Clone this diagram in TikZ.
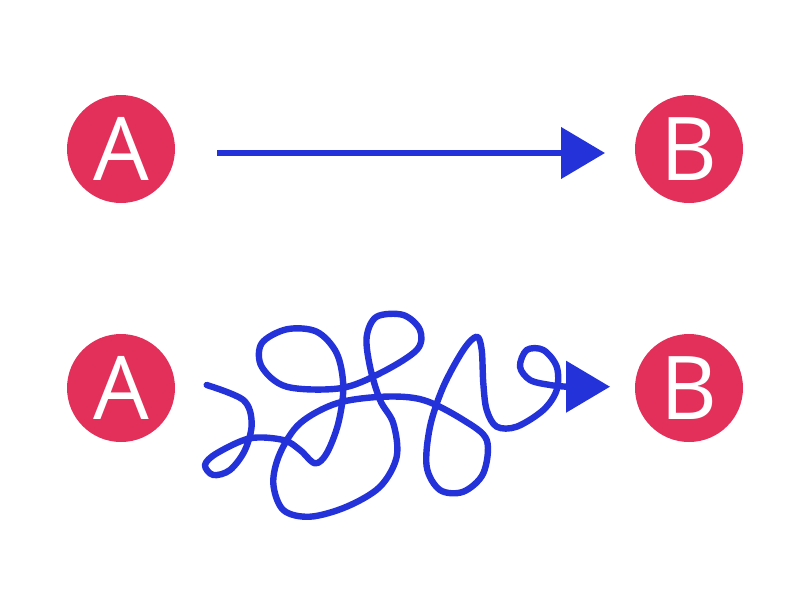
\documentclass[tikz,border=0pt]{standalone}
\usepackage{fontspec}
\setmainfont{Open Sans}
\usetikzlibrary{arrows.meta}
\definecolor{pinkred}{RGB}{226,48,90}
\definecolor{arrblue}{RGB}{36,50,218}
\tikzset{
  ball/.style={circle, fill=pinkred, minimum size=81pt, inner sep=0pt, text=white, font=\fontsize{66}{66}\selectfont},
  conn/.style={draw=arrblue, line width=4.8pt, line cap=round, line join=round},
  tip/.style={-{Triangle[length=33pt,width=38pt]}, draw=arrblue, fill=arrblue, line width=4.2pt}
}
\begin{document}
\begin{tikzpicture}[x=0.75pt,y=-0.75pt]
\useasboundingbox (0,0) rectangle (800,600);
\node[ball] (A1) at (121,149) {A};
\node[ball] (B1) at (689,149) {B};
\node[ball] (A2) at (121,388) {A};
\node[ball] (B2) at (689,388) {B};
\coordinate (s1) at (217,153);
\coordinate (e1) at (605,153);
\draw[tip] (s1) -- (e1);
\coordinate (s2) at (206.7,385);
\coordinate (m2) at (564,386.7);
\coordinate (e2) at (610,386.7);
\draw[conn] plot[smooth, tension=0.55] coordinates {
(206.7,385) (243.3,400) (251.7,423.3) (245,450) (230,470) (213.3,475) (205,465)
(216.7,453.3) (250,438.3) (283.3,440) (300,450) (315,463.3) (326.7,453.3)
(338.3,423.3) (343.3,386.7) (336.7,353.3) (316.7,331.7) (286.7,329.3)
(261.7,343.3) (261.7,366.7) (286.7,386.7) (340,388.3) (380,373.3)
(416.7,350) (420,330) (403.3,315) (376.7,316.7) (366.7,336.7) (370,366.7)
(380,400) (393.3,423.3) (396.7,456.7) (380,486.7) (346.7,506.7) (310,516.7)
(283.3,510) (273.3,483.3) (280,453.3) (300,423.3) (336.7,403.3) (383.3,396.7)
(423.3,400) (463.3,420) (486.7,440) (483.3,473.3) (463.3,491.7) (440,490)
(426.7,466.7) (430,426.7) (443.3,386.7) (463.3,350) (476.7,336.7) (481.7,350)
(483.3,383.3) (486.7,410) (496.7,426.7) (516.7,426.7) (543.3,410) (556.7,390)
(556.7,366.7) (543.3,350) (526.7,350) (520,366.7) (530,380) (550,385) (566.7,386.7)};
\draw[tip] (m2) -- (e2);
\end{tikzpicture}
\end{document}
